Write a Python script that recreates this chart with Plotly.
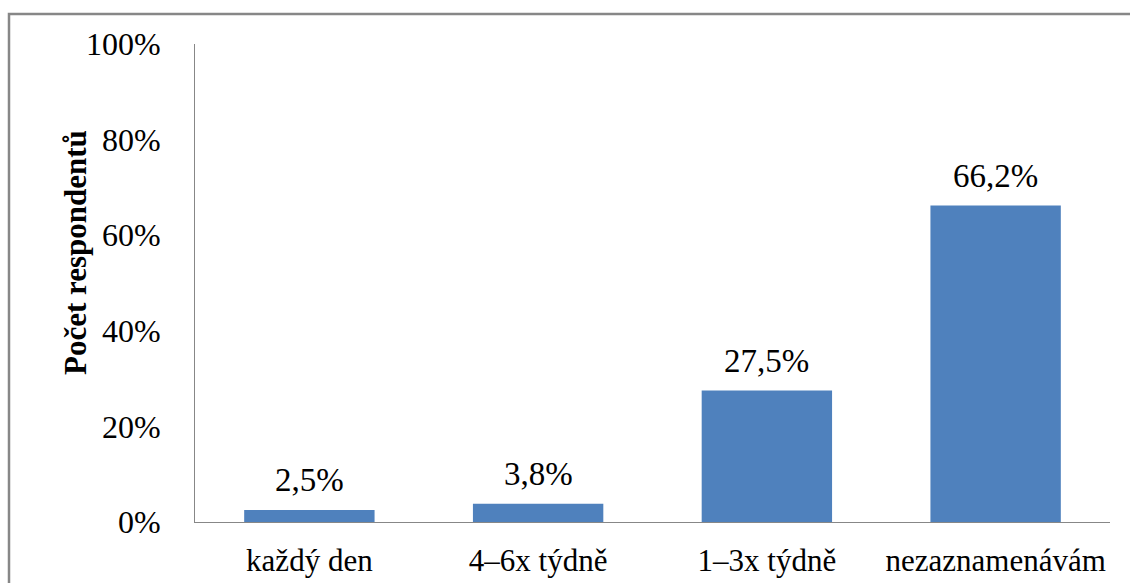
import plotly.graph_objects as go

# Survey answers: how often respondents record it
categories = ["každý den", "4–6x týdně", "1–3x týdně", "nezaznamenávám"]
shares = [2.5, 3.8, 27.5, 66.2]
y_ticks = [0, 20, 40, 60, 80, 100]
y_tick_text = [f"{v}%" for v in y_ticks]

W, H = 1130, 583
M_L, M_R, M_T, M_B = 195, 20, 44, 61
plot_w = W - M_L - M_R
plot_h = H - M_T - M_B


def px_x(px):
    return (px - M_L) / plot_w


def px_y(py):
    return (H - M_B - py) / plot_h


SERIF = "Liberation Serif"
BAR = "#4F81BD"
GREY = "#878787"
TXT = dict(family=SERIF, size=31, color="black")

fig = go.Figure(
    go.Bar(
        x=categories,
        y=shares,
        width=0.57,
        marker=dict(color=BAR, line=dict(width=0)),
        hoverinfo="skip",
    )
)

# value labels above each bar, Czech decimal comma
for cat, val in zip(categories, shares):
    fig.add_annotation(
        x=cat, y=val, xref="x", yref="y",
        text=f"{val:.1f}".replace(".", ",") + "%",
        showarrow=False, yanchor="bottom", yshift=10,
        font=dict(family=SERIF, size=33, color="black"),
    )

# rotated axis title
fig.add_annotation(
    x=px_x(75), y=px_y(253), xref="paper", yref="paper",
    text="<b>Počet respondentů</b>", textangle=-90,
    showarrow=False, xanchor="center", yanchor="middle",
    font=TXT,
)

# outer frame of the chart area
fig.add_shape(
    type="rect", xref="paper", yref="paper",
    x0=px_x(9), x1=px_x(W + 10), y0=px_y(H + 10), y1=px_y(14),
    line=dict(color=GREY, width=2.5), fillcolor="rgba(0,0,0,0)",
    layer="above",
)

fig.update_layout(
    width=W, height=H,
    margin=dict(l=M_L, r=M_R, t=M_T, b=M_B, autoexpand=False),
    paper_bgcolor="white", plot_bgcolor="white",
    showlegend=False,
    xaxis=dict(
        showline=True, linecolor=GREY, linewidth=1,
        showgrid=False, zeroline=False, ticks="",
        tickfont=TXT,
        ticklabelstandoff=11,
    ),
    yaxis=dict(
        range=[0, 100], tickvals=y_ticks, ticktext=y_tick_text,
        showline=True, linecolor=GREY, linewidth=1,
        showgrid=False, zeroline=False, ticks="",
        tickfont=dict(family=SERIF, size=32, color="black"),
        ticklabelstandoff=27,
    ),
)

fig.write_html("out.html")
